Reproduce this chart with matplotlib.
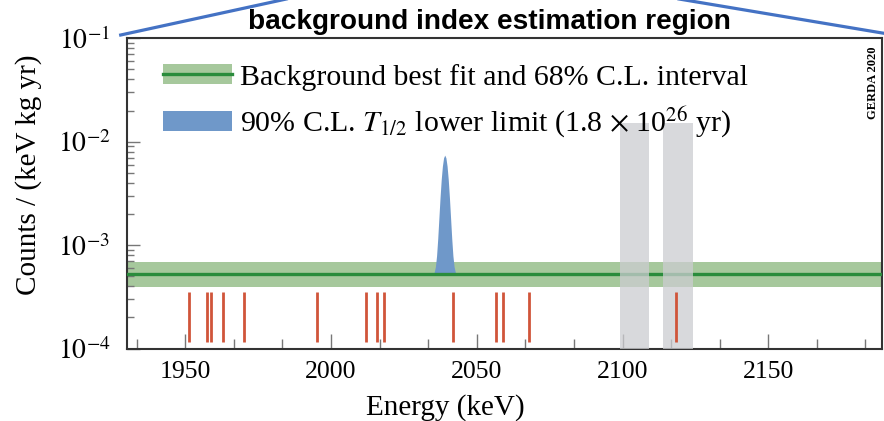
import matplotlib
matplotlib.use("Agg")
import matplotlib.pyplot as plt
from matplotlib.patches import Patch
from matplotlib.lines import Line2D
from matplotlib.ticker import FixedLocator, MultipleLocator, LogLocator, NullFormatter

plt.rcParams['font.family'] = ['Liberation Serif', 'DejaVu Serif']
plt.rcParams['mathtext.fontset'] = 'stix'

# ---------------- data ----------------
event_energies = [1951.1, 1957.4, 1958.8, 1962.8, 1970.2, 1995.3, 2012.0, 2015.9,
                  2018.0, 2041.9, 2056.5, 2058.9, 2068.0, 2118.3]
event_marker_low = 1.15e-4
event_marker_high = 3.5e-4

bkg_best = 5.2e-4
bkg_low = 3.9e-4
bkg_high = 6.8e-4

signal_energy = [2035.0, 2035.4, 2035.8, 2036.2, 2036.6, 2037.0, 2037.4, 2037.8, 2038.2,
                 2038.6, 2039.0, 2039.4, 2039.8, 2040.2, 2040.6, 2041.0, 2041.4, 2041.8,
                 2042.2, 2042.6, 2043.0]
signal_counts = [5.2e-4, 5.5e-4, 6.2e-4, 7.9e-4, 1.16e-3, 1.84e-3, 2.91e-3, 4.33e-3, 5.82e-3,
                 6.98e-3, 7.42e-3, 6.98e-3, 5.82e-3, 4.33e-3, 2.91e-3, 1.84e-3, 1.16e-3, 7.9e-4,
                 6.2e-4, 5.5e-4, 5.2e-4]

excluded_lo = [2099, 2114]
excluded_hi = [2109, 2124]
excluded_top = 1.5e-2

x_ticks = [1950, 2000, 2050, 2100, 2150]
y_ticks = [1e-4, 1e-3, 1e-2, 1e-1]
y_tick_labels = [r"$10^{-4}$", r"$10^{-3}$", r"$10^{-2}$", r"$10^{-1}$"]
energy_range = (1930, 2189)
count_range = (1e-4, 1e-1)

legend_labels = ["Background best fit and 68% C.L. interval",
                 r"90% C.L. $T_{1/2}$ lower limit (1.8 $\times$ 10$^{26}$ yr)"]

# ---------------- styles ----------------
band_color = "#a6c89c"
line_color = "#2a8c3c"
blue_color = "#6f98c9"
gray_color = "#cccdd1"
red_color = "#d0553a"

W, H = 884, 421
fig = plt.figure(figsize=(W / 100, H / 100), dpi=100)
ax_left, ax_right = 127 / W, 882 / W
ax_bottom, ax_top = (H - 348.5) / H, (H - 38.3) / H
ax = fig.add_axes([ax_left, ax_bottom, ax_right - ax_left, ax_top - ax_bottom])

ax.set_yscale('log')
ax.set_xlim(*energy_range)
ax.set_ylim(*count_range)

# background band and best fit
ax.fill_between(energy_range, [bkg_low] * 2, [bkg_high] * 2, color=band_color, lw=0, zorder=1)
ax.fill_between(signal_energy, [bkg_best] * len(signal_energy), signal_counts,
                color=blue_color, lw=0, zorder=2)
ax.axhline(bkg_best, color=line_color, lw=2.4, zorder=3)

# excluded windows
for lo, hi in zip(excluded_lo, excluded_hi):
    ax.fill_between([lo, hi], [count_range[0]] * 2, [excluded_top] * 2,
                    color=gray_color, alpha=0.75, lw=0, zorder=4)

# events
ax.vlines(event_energies, event_marker_low, event_marker_high, color=red_color, lw=2.0, zorder=5)

# ticks
ax.xaxis.set_major_locator(FixedLocator(x_ticks))
ax.xaxis.set_minor_locator(MultipleLocator(50 / 3))
ax.yaxis.set_major_locator(FixedLocator(y_ticks))
ax.yaxis.set_minor_locator(LogLocator(base=10, subs=range(2, 10)))
ax.yaxis.set_minor_formatter(NullFormatter())
ax.set_yticklabels(y_tick_labels)
ax.tick_params(axis='x', which='major', direction='in', length=11, width=1.0,
               color='#777777', labelsize=18.5, pad=9)
ax.tick_params(axis='x', which='minor', direction='in', length=7, width=1.0, color='#777777')
ax.tick_params(axis='y', which='major', direction='in', length=9, width=1.0,
               color='#777777', labelsize=20, pad=12)
ax.tick_params(axis='y', which='minor', direction='in', length=5, width=1.0, color='#777777')

for s in ax.spines.values():
    s.set_linewidth(1.5)
    s.set_color('#333333')

ax.set_xlabel("Energy (keV)", fontsize=21)
ax.xaxis.set_label_coords(0.421, -0.147)
ax.set_ylabel("Counts / (keV kg yr)", fontsize=21)
ax.yaxis.set_label_coords(-0.112, 0.561)

handles = [(Patch(facecolor=band_color, lw=0), Line2D([], [], color=line_color, lw=2.4)),
           Patch(facecolor=blue_color, lw=0)]
ax.legend(handles, legend_labels, loc='upper left', bbox_to_anchor=(0.0477, 0.918),
          frameon=False, fontsize=21.5, handlelength=2.3, handleheight=0.67,
          handletextpad=0.27, labelspacing=0.45, borderpad=0, borderaxespad=0)

ax.text(0.988, 0.856, "GERDA 2020", transform=ax.transAxes, rotation=90,
        ha='center', va='center', fontsize=9, fontweight='bold')

# annotation on top
fig.text(489 / W, 1 - 22 / H, "background index estimation region", ha='center', va='center',
         fontsize=20.2, fontweight='bold', family=['Liberation Sans', 'DejaVu Sans'])
blue_line = "#4472c4"
fig.add_artist(Line2D([120.7 / W, 300 / W], [1 - 35 / H, 1 - (35 - 179.3 * 35 / 161) / H],
                      color=blue_line, lw=2.3, transform=fig.transFigure, clip_on=False))
fig.add_artist(Line2D([660 / W, 884 / W], [1 - (-25 * 33.3 / 199) / H, 1 - 33.3 / H],
                      color=blue_line, lw=2.3, transform=fig.transFigure, clip_on=False))

fig.savefig("out.png", dpi=100)
